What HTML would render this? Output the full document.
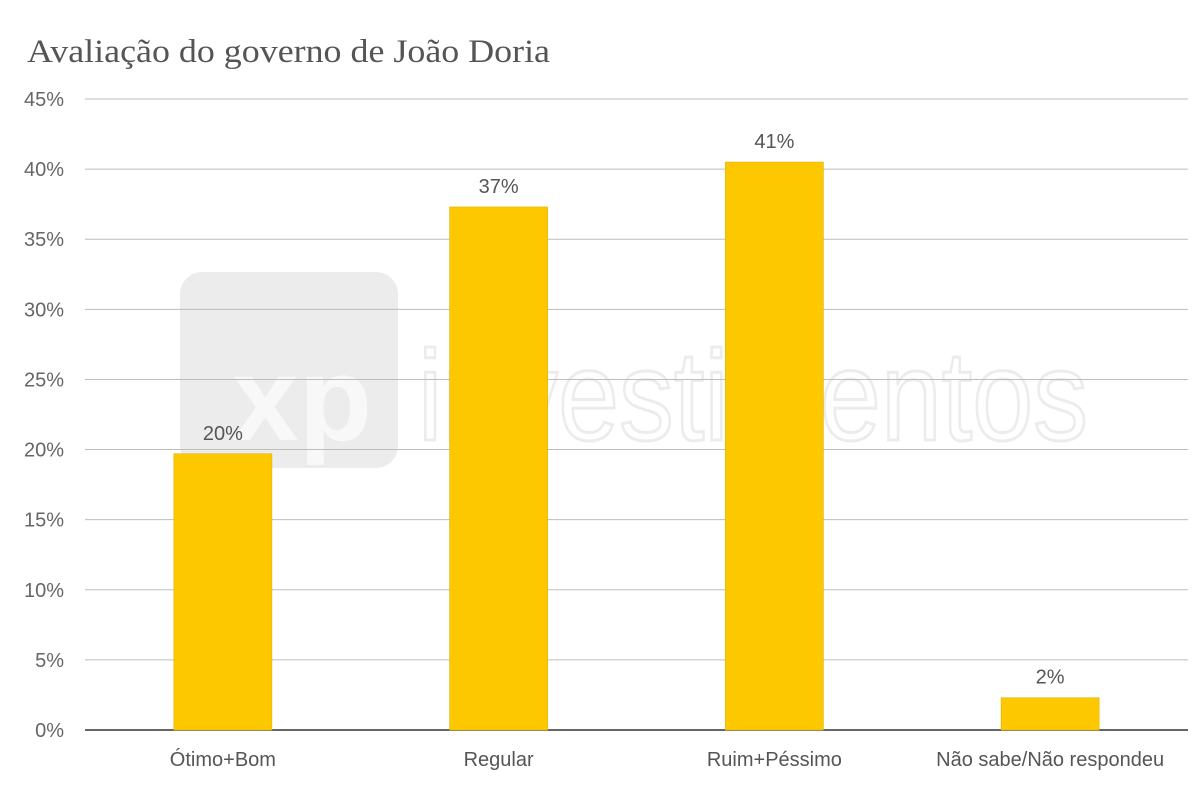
<!DOCTYPE html>
<html><head><meta charset="utf-8">
<style>
html,body{margin:0;padding:0;background:#fff;}
svg{display:block;font-family:"Liberation Sans",sans-serif;}
</style></head>
<body>
<svg id="chart" width="1201" height="804" xmlns="http://www.w3.org/2000/svg">
  <g>
    <rect x="180" y="272" width="218" height="196" rx="22" fill="#ececec"/>
    <text x="232" y="440" font-size="120" font-weight="bold" fill="#f8f8f8">xp</text>
    <text x="418" y="440" font-size="128" fill="none" stroke="#ececec" stroke-width="3" textLength="670" lengthAdjust="spacingAndGlyphs">investimentos</text>
  </g>
  <text x="27" y="62" font-family="Liberation Serif,serif" font-size="33" fill="#555" textLength="523" lengthAdjust="spacingAndGlyphs">Avaliação do governo de João Doria</text>
  <g id="grid"></g>
  <g id="bars"></g>
  <g id="labels"></g>
</svg>
<script>
const categories = ["Ótimo+Bom", "Regular", "Ruim+Péssimo", "Não sabe/Não respondeu"];
const values = [19.7, 37.3, 40.5, 2.3];
const valueLabels = ["20%", "37%", "41%", "2%"];
const ticks = [0, 5, 10, 15, 20, 25, 30, 35, 40, 45];

const NS = "http://www.w3.org/2000/svg";
const x0 = 85, x1 = 1188, yBase = 730, yTop = 99, vMax = 45;
function y(v){ return yBase - (v / vMax) * (yBase - yTop); }
const band = (x1 - x0) / categories.length;
function xc(i){ return x0 + band * (i + 0.5); }
const bw = 98;

function mk(tag, attrs, parent, text){
  const e = document.createElementNS(NS, tag);
  for (const k in attrs) e.setAttribute(k, attrs[k]);
  if (text !== undefined) e.textContent = text;
  parent.appendChild(e);
  return e;
}
const grid = document.getElementById("grid");
ticks.forEach(t => {
  const l = mk("line", {x1: x0, x2: x1, y1: y(t), y2: y(t), stroke: t === 0 ? "#333" : "#bdbdbd", "stroke-width": t === 0 ? 1.5 : 1}, grid);
  
  
  const tx = mk("text", {x: 64, y: y(t) + 7, "text-anchor": "end", "font-size": 20, fill: "#666"}, grid, t + "%");
  
  
});
const bars = document.getElementById("bars");
const labels = document.getElementById("labels");
categories.forEach((c, i) => {
  const r = mk("rect", {x: xc(i) - bw / 2, y: y(values[i]), width: bw, height: yBase - y(values[i]), fill: "#fec800", stroke: "#e0b000", "stroke-width": 0.6}, bars);
  
  
  const vl = mk("text", {x: xc(i), y: y(values[i]) - 14, "text-anchor": "middle", "font-size": 20, fill: "#555"}, labels, valueLabels[i]);
  
  
  const cl = mk("text", {x: xc(i), y: 766, "text-anchor": "middle", "font-size": 20, fill: "#555"}, labels, c);
  
  
});
</script>
</body></html>
